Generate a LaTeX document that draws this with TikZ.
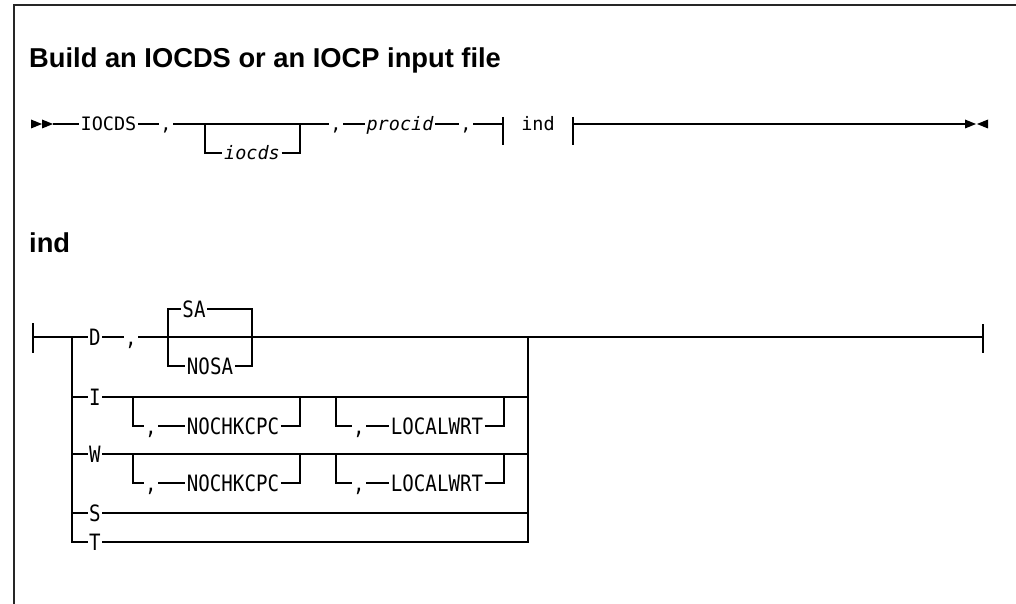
\documentclass[tikz,border=0pt]{standalone}
\usepackage{fontspec}
\setmainfont{Liberation Sans}
\newfontfamily\railmono{DejaVu Sans Mono}
\newfontfamily\railmonocond[FakeStretch=0.85]{DejaVu Sans Mono}
\usetikzlibrary{positioning,calc}
\tikzset{
  figtitle/.style={font=\fontsize{27.3}{31}\selectfont\bfseries, anchor=base west,
                   inner sep=0pt},
  rail/.style={line width=1.1pt, black},
  railbar/.style={line width=1.3pt, black},
  frame/.style={line width=1.6pt, black!85},
  kw/.style={font=\railmono\fontsize{18.5}{20}\selectfont, text height=13.5pt,
             text depth=0pt, inner xsep=1.5pt, inner ysep=0pt},
  var/.style={kw, font=\railmono\fontsize{18.5}{20}\selectfont\itshape},
  fkw/.style={font=\railmonocond\fontsize{22.5}{24}\selectfont, text height=16.4pt,
              text depth=0pt, inner xsep=1.5pt, inner ysep=0pt},
}

\begin{document}
\begin{tikzpicture}[x=1pt, y=-1pt]
  \useasboundingbox (0,0) rectangle (1016,604);

  % page frame
  \draw[frame] (14,604) -- (14,5) -- (1016,5);

  \node[figtitle] (title) at (29,68) {Build an IOCDS or an IOCP input file};
  \node[figtitle] (indtitle) at (29,252) {ind};

  % main statement
  \coordinate (mstart) at (53,124);
  \node[kw] (iocdskw) at (108.5,124) {IOCDS};
  \node[kw] (comma1) at (166,124) {,};
  \coordinate (optl) at (205,124);
  \coordinate (optr) at (300,124);
  \node[var] (iocds) at (252,153) {iocds};
  \node[kw] (comma2) at (336,124) {,};
  \node[var] (procid) at (400,124) {procid};
  \node[kw] (comma3) at (466,124) {,};
  \coordinate (fragin) at (503,124);
  \node[kw] (indref) at (538,124) {ind};
  \coordinate (fragout) at (573,124);
  \coordinate (mend) at (965,124);

  \fill (31,119.5) -- (42,124) -- (31,128.5) -- cycle;
  \fill (42,119.5) -- (53,124) -- (42,128.5) -- cycle;
  \draw[rail] (mstart) -- (iocdskw) -- (comma1) -- (comma2) -- (procid) -- (comma3) -- (fragin);
  \draw[rail] (optl) |- (iocds) -| (optr);
  \draw[railbar] ($(fragin)+(0,-7)$) -- ($(fragin)+(0,21)$);
  \draw[railbar] ($(fragout)+(0,-7)$) -- ($(fragout)+(0,21)$);
  \draw[rail] (fragout) -- (mend);
  \fill (965,119.5) -- (976,124) -- (965,128.5) -- cycle;
  \fill (988,119.5) -- (977,124) -- (988,128.5) -- cycle;

  % ind fragment
  \coordinate (fstart) at (33,337);
  \coordinate (jl) at (72,337);
  \coordinate (jr) at (528,337);
  \coordinate (fend) at (983,337);
  \draw[railbar] ($(fstart)+(0,-14)$) -- ($(fstart)+(0,16)$);
  \draw[railbar] ($(fend)+(0,-13)$) -- ($(fend)+(0,16)$);

  % D row
  \node[fkw] (dkw) at (95,337) {D};
  \node[fkw] (dcomma) at (131,337) {,};
  \coordinate (sal) at (168,337);
  \coordinate (sar) at (252,337);
  \node[fkw] (sakw) at (194,309) {SA};
  \node[fkw] (nosakw) at (210,366) {NOSA};
  \draw[rail] (fstart) -- (dkw) -- (dcomma) -- (fend);
  \draw[rail] (sakw) -| (sal) |- (nosakw);
  \draw[rail] (sakw) -| (sar) |- (nosakw);

  % I row
  \node[fkw] (ikw) at (95,397) {I};
  \coordinate (inl) at (133,397);
  \coordinate (inr) at (300,397);
  \coordinate (ill) at (336,397);
  \coordinate (ilr) at (504,397);
  \node[fkw] (icomma1) at (151,426) {,};
  \node[fkw] (inochk) at (233,426) {NOCHKCPC};
  \node[fkw] (icomma2) at (359,426) {,};
  \node[fkw] (ilocal) at (437,426) {LOCALWRT};
  \draw[rail] (jl |- ikw) -- (ikw) -- (jr |- ikw);
  \draw[rail] (inl) |- (icomma1) -- (inochk) -| (inr);
  \draw[rail] (ill) |- (icomma2) -- (ilocal) -| (ilr);

  % W row
  \node[fkw] (wkw) at (95,454) {W};
  \coordinate (wnl) at (133,454);
  \coordinate (wnr) at (300,454);
  \coordinate (wll) at (336,454);
  \coordinate (wlr) at (504,454);
  \node[fkw] (wcomma1) at (151,483) {,};
  \node[fkw] (wnochk) at (233,483) {NOCHKCPC};
  \node[fkw] (wcomma2) at (359,483) {,};
  \node[fkw] (wlocal) at (437,483) {LOCALWRT};
  \draw[rail] (jl |- wkw) -- (wkw) -- (jr |- wkw);
  \draw[rail] (wnl) |- (wcomma1) -- (wnochk) -| (wnr);
  \draw[rail] (wll) |- (wcomma2) -- (wlocal) -| (wlr);

  % S and T rows
  \node[fkw] (skw) at (95,513) {S};
  \node[fkw] (tkw) at (95,542) {T};
  \draw[rail] (jl |- skw) -- (skw) -- (jr |- skw);
  \draw[rail] (jl) |- (tkw) -| (jr);

\end{tikzpicture}
\end{document}
